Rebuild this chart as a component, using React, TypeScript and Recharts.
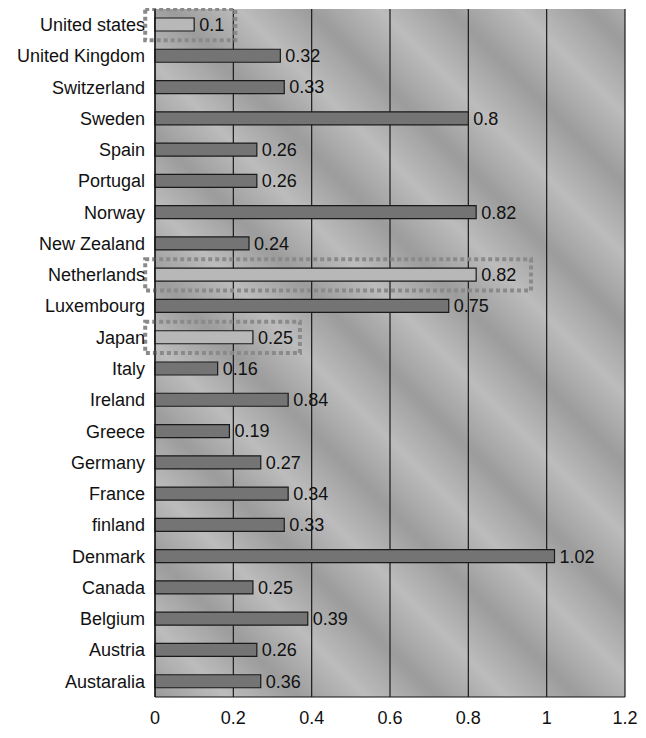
import React from "react";
import {
  BarChart,
  Bar,
  XAxis,
  YAxis,
  CartesianGrid,
  Cell,
  LabelList,
  ReferenceArea,
} from "recharts";

const categories = [
  "United states",
  "United Kingdom",
  "Switzerland",
  "Sweden",
  "Spain",
  "Portugal",
  "Norway",
  "New Zealand",
  "Netherlands",
  "Luxembourg",
  "Japan",
  "Italy",
  "Ireland",
  "Greece",
  "Germany",
  "France",
  "finland",
  "Denmark",
  "Canada",
  "Belgium",
  "Austria",
  "Austaralia",
];

// bar lengths as drawn
const values = [
  0.1, 0.32, 0.33, 0.8, 0.26, 0.26, 0.82, 0.24, 0.82, 0.75, 0.25, 0.16, 0.34,
  0.19, 0.27, 0.34, 0.33, 1.02, 0.25, 0.39, 0.26, 0.27,
];

// labels as printed next to the bars
const valueLabels = [
  "0.1", "0.32", "0.33", "0.8", "0.26", "0.26", "0.82", "0.24", "0.82", "0.75",
  "0.25", "0.16", "0.84", "0.19", "0.27", "0.34", "0.33", "1.02", "0.25",
  "0.39", "0.26", "0.36",
];

const xTicks = [0, 0.2, 0.4, 0.6, 0.8, 1, 1.2];

const highlighted = ["United states", "Netherlands", "Japan"];

const highlightBoxes = [
  { category: "United states", from: -0.025, to: 0.205 },
  { category: "Netherlands", from: -0.025, to: 0.96 },
  { category: "Japan", from: -0.025, to: 0.37 },
];

const data = categories.map((c, i) => ({
  name: c,
  value: values[i],
  label: valueLabels[i],
}));

const FONT = "'Liberation Sans', Arial, sans-serif";

export default function App() {
  return (
    <div style={{ width: 630, height: 722 }}>
      <BarChart
        width={630}
        height={722}
        data={data}
        layout="vertical"
        margin={{ top: 1, right: 13, left: 0, bottom: 0 }}
        barCategoryGap={0}
      >
        <defs>
          <linearGradient
            id="bgTex"
            gradientUnits="userSpaceOnUse"
            x1="0"
            y1="120"
            x2="70"
            y2="50"
            spreadMethod="repeat"
          >
            <stop offset="0" stopColor="#9c9c9c" />
            <stop offset="0.5" stopColor="#bcbcbc" />
            <stop offset="1" stopColor="#9c9c9c" />
          </linearGradient>
        </defs>
        <CartesianGrid
          horizontal={false}
          vertical
          stroke="#1a1a1a"
          strokeWidth={1.2}
          fill="url(#bgTex)"
          fillOpacity={1}
        />
        <XAxis
          type="number"
          domain={[0, 1.2]}
          ticks={xTicks}
          tickFormatter={(v: number) => String(v)}
          tickLine={false}
          tickSize={0}
          tickMargin={14}
          height={33}
          axisLine={{ stroke: "#111", strokeWidth: 1.2 }}
          tick={{ fill: "#111", fontSize: 18, fontFamily: FONT }}
          interval={0}
        />
        <YAxis
          type="category"
          dataKey="name"
          width={147}
          tickLine={false}
          tickSize={0}
          tickMargin={10}
          axisLine={{ stroke: "#111", strokeWidth: 1.2 }}
          tick={{ fill: "#111", fontSize: 18, fontFamily: FONT }}
          interval={0}
        />
        <Bar
          dataKey="value"
          barSize={13}
          stroke="#1a1a1a"
          strokeWidth={1.2}
          isAnimationActive={false}
        >
          {data.map((d) => (
            <Cell
              key={d.name}
              fill={highlighted.includes(d.name) ? "#b8b8b8" : "#747474"}
            />
          ))}
          <LabelList
            dataKey="label"
            position="right"
            offset={5}
            fill="#111"
            fontSize={18}
            fontFamily={FONT}
          />
        </Bar>
        {highlightBoxes.map((b) => (
          <ReferenceArea
            key={b.category}
            y1={b.category}
            y2={b.category}
            x1={b.from}
            x2={b.to}
            ifOverflow="visible"
            fill="none"
            fillOpacity={0}
            stroke="#8a8a8a"
            strokeWidth={4}
            strokeDasharray="4 3"
          />
        ))}
      </BarChart>
    </div>
  );
}
